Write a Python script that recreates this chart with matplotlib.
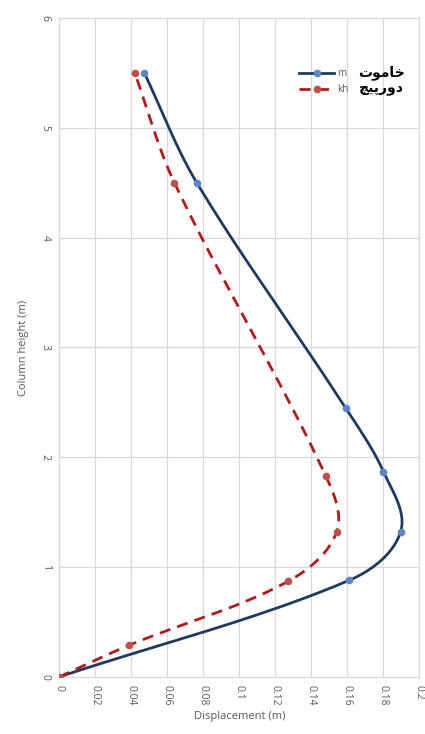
import numpy as np
import matplotlib
matplotlib.use("Agg")
import matplotlib.pyplot as plt
from matplotlib.lines import Line2D

# displacement profiles along the column
h_m = [0.0, 0.88, 1.32, 1.87, 2.45, 4.5, 5.5]
d_m = [0.0, 0.161, 0.1895, 0.180, 0.159, 0.0764, 0.0473]
h_kh = [0.0, 0.29, 0.87, 1.32, 1.83, 4.5, 5.5]
d_kh = [0.0, 0.039, 0.127, 0.154, 0.148, 0.064, 0.042]

x_ticks = [0, 0.02, 0.04, 0.06, 0.08, 0.1, 0.12, 0.14, 0.16, 0.18, 0.2]
x_ticklabels = ["0", "0.02", "0.04", "0.06", "0.08", "0.1", "0.12", "0.14", "0.16", "0.18", "0.2"]
y_ticks = [0, 1, 2, 3, 4, 5, 6]

# legend captions, shaped Arabic presentation forms in visual order
name_m = "\ufe95\ufeee\ufee3\ufe8e\ufea7"          # خاموت
name_kh = "\ufb7b\ufbff\ufb58\ufead\ufeed\ufea9"   # دورپیچ

BLUE_LINE = "#1f3a60"
BLUE_MARK = "#5b87c5"
RED_LINE = "#b01c1c"
RED_MARK = "#c0504d"
GRAY = "#595959"

# rough screen scale of the axes (px per unit) so the smoothing is done on screen
SX, SY = 1800.0, 110.0


def smooth(xs, ys, n=40):
    # smoothed line: cubic bezier segments, tangent from the neighbours,
    # handle length a third of the segment length
    p = np.column_stack([np.asarray(xs) * SX, np.asarray(ys) * SY])
    m = len(p)
    tang = np.zeros_like(p)
    for i in range(m):
        a = p[max(i - 1, 0)]
        b = p[min(i + 1, m - 1)]
        d = b - a
        tang[i] = d / np.hypot(*d)
    out = []
    t = np.linspace(0, 1, n)[:, None]
    for i in range(m - 1):
        p0, p1 = p[i], p[i + 1]
        L = np.hypot(*(p1 - p0)) / 3.0
        c1 = p0 + tang[i] * L
        c2 = p1 - tang[i + 1] * L
        seg = (1 - t) ** 3 * p0 + 3 * (1 - t) ** 2 * t * c1 + 3 * (1 - t) * t ** 2 * c2 + t ** 3 * p1
        out.append(seg if i == 0 else seg[1:])
    s = np.vstack(out)
    return s[:, 0] / SX, s[:, 1] / SY


plt.rcParams['font.family'] = ['Open Sans', 'DejaVu Sans']

fig = plt.figure(figsize=(4.25, 7.34), dpi=100)
ax = fig.add_axes([0.139, 0.0777, 0.848, 0.8978])

sx, sy = smooth(d_m, h_m)
ax.plot(sx, sy, color=BLUE_LINE, lw=2.0, zorder=3)
ax.plot(d_m, h_m, "o", color=BLUE_MARK, ms=4.5, zorder=4)

rx, ry = smooth(d_kh, h_kh)
ax.plot(rx, ry, color=RED_LINE, lw=2.0, linestyle=(0, (4, 2.6)), zorder=3)
ax.plot(d_kh, h_kh, "o", color=RED_MARK, ms=4.5, zorder=4)

ax.set_xlim(0, 0.2)
ax.set_ylim(0, 6)
ax.set_xticks(x_ticks)
ax.set_xticklabels(x_ticklabels, rotation=-90)
ax.set_yticks(y_ticks)
ax.set_yticklabels([str(v) for v in y_ticks], rotation=-90, va="center")
ax.tick_params(length=0, labelsize=7.5, labelcolor=GRAY, pad=6)
ax.grid(True, color="#d9d9d9", lw=0.9)
ax.set_axisbelow(True)
for s in ax.spines.values():
    s.set_color("#d9d9d9")
    s.set_linewidth(0.9)

ax.set_xlabel("Displacement (m)", fontsize=8, color=GRAY, labelpad=4)
ax.set_ylabel("Column height (m)", fontsize=8, color=GRAY, labelpad=8)

handles = [
    Line2D([], [], color=BLUE_LINE, lw=2.0, marker="o", ms=4.5,
           markerfacecolor=BLUE_MARK, markeredgecolor=BLUE_MARK),
    Line2D([], [], color=RED_LINE, lw=2.0, linestyle=(0, (4, 2.6)), marker="o", ms=4.5,
           markerfacecolor=RED_MARK, markeredgecolor=RED_MARK),
]
leg = ax.legend(handles, ["m", "kh"], loc="upper left", bbox_to_anchor=(0.655, 0.93),
                frameon=False, fontsize=7, handlelength=3.6, handletextpad=0.3,
                labelspacing=0.55, borderaxespad=0)
for t in leg.get_texts():
    t.set_color(GRAY)

ax.text(0.895, 0.9165, name_m, transform=ax.transAxes, fontsize=10, fontweight="bold",
        family=["DejaVu Sans"], ha="center", va="center", color="black")
ax.text(0.895, 0.893, name_kh, transform=ax.transAxes, fontsize=10, fontweight="bold",
        family=["DejaVu Sans"], ha="center", va="center", color="black")

fig.savefig("out.png", dpi=100)
